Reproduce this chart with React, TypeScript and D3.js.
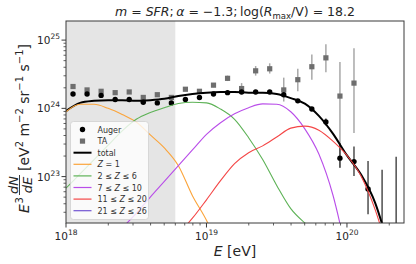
import * as d3 from "d3";

const W = 416;
const H = 264;
const plot = { left: 66, right: 404, top: 21, bottom: 223 };

// log10(E/eV) of the measured bins
const binLogE = [
  18.05, 18.15, 18.25, 18.35, 18.45, 18.55, 18.65, 18.75, 18.85, 18.95, 19.05, 19.15,
  19.25, 19.35, 19.45, 19.55, 19.65, 19.75, 19.85, 19.95, 20.05, 20.15, 20.25, 20.35,
];

// Auger, log10(E^3 dN/dE)
const augerLogJ = [
  24.21, 24.21, 24.19, 24.13, 24.13, 24.09, 24.08, 24.08, 24.13, 24.16, 24.21, 24.23,
  24.24, 24.24, 24.24, 24.2, 24.11, 23.99, 23.8, 23.27, 23.22, 22.82,
];
const augerErrUp = [
  0.01, 0.01, 0.01, 0.01, 0.01, 0.01, 0.01, 0.01, 0.01, 0.01, 0.01, 0.01, 0.01, 0.01,
  0.01, 0.015, 0.02, 0.03, 0.05, 0.22, 0.22, 0.41,
];
const augerErrDown = [
  0.01, 0.01, 0.01, 0.01, 0.01, 0.01, 0.01, 0.01, 0.01, 0.01, 0.01, 0.01, 0.01, 0.01,
  0.01, 0.015, 0.02, 0.03, 0.05, 0.14, 0.21, 0.37,
];
// last two Auger bins: only the upper end of the error bar is inside the frame
const augerLimitLogJ = [23.1, 23.29];

// TA
const taLogJ = [
  24.32, 24.27, 24.25, 24.23, 24.24, 24.16, 24.2, 24.16, 24.28, 24.25, 24.34, 24.44,
  24.29, 24.55, 24.58, 24.27, 24.42, 24.61, 24.74, 24.18, 24.37,
];
const taErrUp = [
  0.02, 0.02, 0.02, 0.02, 0.02, 0.02, 0.02, 0.02, 0.02, 0.02, 0.03, 0.04, 0.08, 0.07,
  0.08, 0.18, 0.16, 0.18, 0.2, 0.5, 0.51,
];
const taErrDown = [
  0.02, 0.02, 0.02, 0.02, 0.02, 0.02, 0.02, 0.02, 0.02, 0.02, 0.03, 0.04, 0.08, 0.07,
  0.07, 0.17, 0.17, 0.19, 0.21, 1.05, 0.73,
];

// model curves
const curveLogE = [
  18.0, 18.1, 18.2, 18.3, 18.4, 18.5, 18.6, 18.7, 18.8, 18.9, 19.0, 19.1, 19.2, 19.3,
  19.4, 19.5, 19.6, 19.7, 19.8, 19.9, 20.0, 20.1, 20.2, 20.3, 20.4,
];
const n = null;
const totalLogJ = [
  23.96, 24.08, 24.11, 24.12, 24.12, 24.11, 24.12, 24.14, 24.18, 24.21, 24.23, 24.24,
  24.24, 24.23, 24.23, 24.21, 24.15, 24.07, 23.89, 23.63, 23.31, 23.03, 22.62, 21.95, n,
];
const z1LogJ = [
  23.95, 24.06, 24.06, 24.0, 23.91, 23.8, 23.61, 23.42, 23.16, 22.72, 22.36, 21.9,
  n, n, n, n, n, n, n, n, n, n, n, n, n,
];
const z2to6LogJ = [
  22.83, 23.04, 23.25, 23.46, 23.67, 23.84, 23.94, 24.01, 24.07, 24.09, 24.08, 23.99,
  23.84, 23.57, 23.25, 22.87, 22.53, 22.32, 22.15, n, n, n, n, n, n,
];
const z7to10LogJ = [
  n, n, n, n, 22.25, 22.46, 22.7, 22.93, 23.16, 23.39, 23.62, 23.79, 23.92, 24.01,
  24.065, 24.06, 23.95, 23.7, 23.33, 22.73, 21.85, n, n, n, n,
];
const z11to20LogJ = [
  n, n, n, n, n, n, n, n, 22.16, 22.39, 22.66, 22.94, 23.19, 23.35, 23.45, 23.58,
  23.71, 23.74, 23.68, 23.52, 23.31, 23.01, 22.52, 21.85, n,
];
// 21 <= Z <= 26 stays below the plotted range
const z21to26LogJ: (number | null)[] = [];

const shadeLimitE = 6e18;

const comps = [
  { label: "Z = 1", vals: z1LogJ, color: "#fba43a", pre: "", post: " = 1" },
  { label: "2 ≤ Z ≤ 6", vals: z2to6LogJ, color: "#5db256", pre: "2 ≤ ", post: " ≤ 6" },
  { label: "7 ≤ Z ≤ 10", vals: z7to10LogJ, color: "#b94de9", pre: "7 ≤ ", post: " ≤ 10" },
  { label: "11 ≤ Z ≤ 20", vals: z11to20LogJ, color: "#f44646", pre: "11 ≤ ", post: " ≤ 20" },
  { label: "21 ≤ Z ≤ 26", vals: z21to26LogJ, color: "#7255d2", pre: "21 ≤ ", post: " ≤ 26" },
];

const font = "'DejaVu Sans', sans-serif";
const axisColor = "#3a3a3a";

export default function App() {
  const x = d3
    .scaleLog()
    .domain([1e18, 10 ** 20.406])
    .range([plot.left, plot.right]);
  const y = d3
    .scaleLog()
    .domain([10 ** 22.32, 10 ** 25.28])
    .range([plot.bottom, plot.top]);
  const px = (l: number) => x(10 ** l);
  const py = (l: number) => y(10 ** l);

  const line = d3
    .line<number | null>()
    .defined((d) => d != null)
    .x((_, i) => px(curveLogE[i]))
    .y((d) => py(d as number))
    .curve(d3.curveMonotoneX);

  const xMajor = [18, 19, 20];
  const xMinor: number[] = [];
  const yMinor: number[] = [];
  for (const dec of [18, 19, 20])
    for (let m = 2; m <= 9; m++) {
      const v = m * 10 ** dec;
      if (v <= x.domain()[1]) xMinor.push(v);
    }
  for (const dec of [22, 23, 24, 25])
    for (let m = 2; m <= 9; m++) {
      const v = m * 10 ** dec;
      if (v >= y.domain()[0] && v <= y.domain()[1]) yMinor.push(v);
    }
  const yMajor = [23, 24, 25];

  const legX = 70.5;
  const legY = 121.5;
  const rowY = (i: number) => 129.5 + i * 11.6;

  return (
    <svg
      width={W}
      height={H}
      style={{ position: "absolute", left: 0, top: 0, background: "white" }}
      fontFamily={font}
    >
      <defs>
        <clipPath id="plotclip">
          <rect
            x={plot.left}
            y={plot.top}
            width={plot.right - plot.left}
            height={plot.bottom - plot.top}
          />
        </clipPath>
      </defs>

      {/* shaded low-energy region */}
      <rect
        x={plot.left}
        y={plot.top}
        width={x(shadeLimitE) - plot.left}
        height={plot.bottom - plot.top}
        fill="#e5e5e5"
      />

      <g clipPath="url(#plotclip)">
        {/* TA */}
        {taLogJ.map((v, i) => (
          <line
            key={"tae" + i}
            x1={px(binLogE[i])}
            x2={px(binLogE[i])}
            y1={py(v + taErrUp[i])}
            y2={py(v - taErrDown[i])}
            stroke="#a8a8a8"
            strokeWidth={1.5}
          />
        ))}
        {taLogJ.map((v, i) => (
          <rect
            key={"ta" + i}
            x={px(binLogE[i]) - 2.6}
            y={py(v) - 2.6}
            width={5.2}
            height={5.2}
            fill="#6e6e6e"
          />
        ))}
        {/* Auger */}
        {augerLogJ.map((v, i) => (
          <line
            key={"ae" + i}
            x1={px(binLogE[i])}
            x2={px(binLogE[i])}
            y1={py(v + augerErrUp[i])}
            y2={py(v - augerErrDown[i])}
            stroke="#333"
            strokeWidth={1.3}
          />
        ))}
        {augerLimitLogJ.map((v, i) => {
          const e = binLogE[augerLogJ.length + i];
          return (
            <line
              key={"al" + i}
              x1={px(e)}
              x2={px(e)}
              y1={py(v)}
              y2={plot.bottom}
              stroke="#333"
              strokeWidth={1.3}
            />
          );
        })}
        {augerLogJ.map((v, i) => (
          <circle key={"a" + i} cx={px(binLogE[i])} cy={py(v)} r={2.7} fill="black" />
        ))}

        <path d={line(totalLogJ) ?? ""} fill="none" stroke="black" strokeWidth={2} />
        {comps.map((c) =>
          c.vals.length ? (
            <path
              key={c.label}
              d={line(c.vals) ?? ""}
              fill="none"
              stroke={c.color}
              strokeWidth={1.1}
            />
          ) : null
        )}
      </g>

      {/* frame */}
      <rect
        x={plot.left}
        y={plot.top}
        width={plot.right - plot.left}
        height={plot.bottom - plot.top}
        fill="none"
        stroke={axisColor}
        strokeWidth={1}
      />

      {/* x ticks */}
      {xMinor.map((v) => (
        <line
          key={"xm" + v}
          x1={x(v)}
          x2={x(v)}
          y1={plot.bottom}
          y2={plot.bottom + 2.5}
          stroke={axisColor}
          strokeWidth={0.8}
        />
      ))}
      {xMajor.map((d) => (
        <g key={"xM" + d}>
          <line
            x1={x(10 ** d)}
            x2={x(10 ** d)}
            y1={plot.bottom}
            y2={plot.bottom + 4.5}
            stroke={axisColor}
            strokeWidth={1}
          />
          <text x={x(10 ** d)} y={240} textAnchor="middle" fontSize={10.5} fill="#262626">
            10
            <tspan dy={-5} fontSize={7.5}>
              {d}
            </tspan>
          </text>
        </g>
      ))}

      {/* y ticks */}
      {yMinor.map((v) => (
        <line
          key={"ym" + v}
          x1={plot.left - 2.5}
          x2={plot.left}
          y1={y(v)}
          y2={y(v)}
          stroke={axisColor}
          strokeWidth={0.8}
        />
      ))}
      {yMajor.map((d) => (
        <g key={"yM" + d}>
          <line
            x1={plot.left - 4.5}
            x2={plot.left}
            y1={y(10 ** d)}
            y2={y(10 ** d)}
            stroke={axisColor}
            strokeWidth={1}
          />
          <text
            x={plot.left - 6}
            y={y(10 ** d) + 4}
            textAnchor="end"
            fontSize={10.5}
            fill="#262626"
          >
            10
            <tspan dy={-5} fontSize={7.5}>
              {d}
            </tspan>
          </text>
        </g>
      ))}

      {/* title */}
      <text x={235} y={16} textAnchor="middle" fontSize={12.5} fill="#262626">
        <tspan fontStyle="italic">m</tspan>
        {" = "}
        <tspan fontStyle="italic">SFR</tspan>
        {";\u2009"}
        <tspan fontStyle="italic">α</tspan>
        {" = −1.3;\u2009log("}
        <tspan fontStyle="italic">R</tspan>
        <tspan fontSize={8.5} dy={2.5}>
          max
        </tspan>
        <tspan dy={-2.5}>{"/V) = 18.2"}</tspan>
      </text>

      {/* x label */}
      <text x={235} y={256} textAnchor="middle" fontSize={14} fill="#262626">
        <tspan fontStyle="italic">E</tspan>
        {" [eV]"}
      </text>

      {/* y label */}
      <g transform="translate(29,213) rotate(-90)" fill="#262626">
        <text x={0} y={0} fontSize={14} fontStyle="italic">
          E
        </text>
        <text x={9.5} y={-6} fontSize={10}>
          3
        </text>
        <text x={28} y={-11.5} fontSize={13} fontStyle="italic" textAnchor="middle">
          dN
        </text>
        <line x1={18} x2={38} y1={-9.5} y2={-9.5} stroke="#262626" strokeWidth={0.9} />
        <text x={28} y={2.5} fontSize={13} fontStyle="italic" textAnchor="middle">
          dE
        </text>
        <text x={42} y={0} fontSize={14}>
          {"[eV"}
          <tspan dy={-6} fontSize={10}>
            2
          </tspan>
          <tspan dy={6}>{" m"}</tspan>
          <tspan dy={-6} fontSize={10}>
            −2
          </tspan>
          <tspan dy={6}>{" sr"}</tspan>
          <tspan dy={-6} fontSize={10}>
            −1
          </tspan>
          <tspan dy={6}>{" s"}</tspan>
          <tspan dy={-6} fontSize={10}>
            −1
          </tspan>
          <tspan dy={6}>]</tspan>
        </text>
      </g>

      {/* legend */}
      <rect
        x={legX}
        y={legY}
        width={78}
        height={98}
        rx={3}
        fill="white"
        fillOpacity={0.8}
        stroke="#d0d0d0"
        strokeWidth={0.8}
      />
      <circle cx={82.5} cy={rowY(0)} r={2.7} fill="black" />
      <text x={97.5} y={rowY(0) + 3} fontSize={8} fill="#333">
        Auger
      </text>
      <rect x={82.5 - 2.6} y={rowY(1) - 2.6} width={5.2} height={5.2} fill="#6e6e6e" />
      <text x={97.5} y={rowY(1) + 3} fontSize={8} fill="#333">
        TA
      </text>
      <line x1={73.5} x2={91.5} y1={rowY(2)} y2={rowY(2)} stroke="black" strokeWidth={2} />
      <text x={97.5} y={rowY(2) + 3} fontSize={8} fill="#333">
        total
      </text>
      {comps.map((c, i) => (
        <g key={"leg" + c.label}>
          <line
            x1={73.5}
            x2={91.5}
            y1={rowY(i + 3)}
            y2={rowY(i + 3)}
            stroke={c.color}
            strokeWidth={1.2}
          />
          <text x={97.5} y={rowY(i + 3) + 3} fontSize={8} fill="#333">
            {c.pre}
            <tspan fontStyle="italic">Z</tspan>
            {c.post}
          </text>
        </g>
      ))}
    </svg>
  );
}
